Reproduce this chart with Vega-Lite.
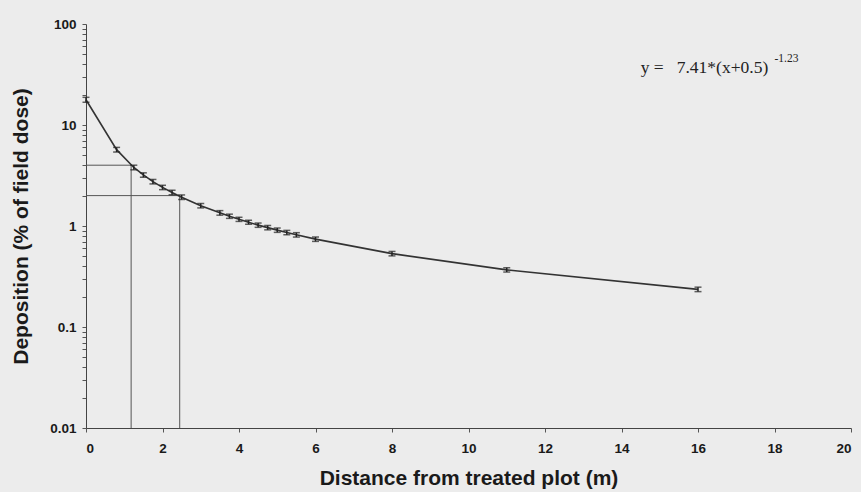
{
  "$schema": "https://vega.github.io/schema/vega-lite/v6.json",
  "width": 765,
  "height": 404,
  "autosize": "none",
  "padding": {"left": 86, "top": 24, "right": 10, "bottom": 64},
  "background": "#ececec",
  "config": {
    "view": {"stroke": null},
    "font": "Liberation Sans",
    "axis": {
      "domainColor": "#444",
      "tickColor": "#555",
      "labelColor": "#1a1a1a",
      "titleColor": "#1a1a1a",
      "labelFont": "Liberation Sans",
      "titleFont": "Liberation Sans",
      "labelFontWeight": "bold",
      "titleFontWeight": "bold",
      "labelFontSize": 13.5,
      "titleFontSize": 21,
      "grid": false,
      "tickSize": 4
    }
  },
  "datasets": {
    "deposition": [
      {"dist": 0, "dep": 17.8, "lo": 16.8, "hi": 18.8},
      {"dist": 0.8, "dep": 5.7, "lo": 5.4, "hi": 6.0},
      {"dist": 1.25, "dep": 3.8, "lo": 3.6, "hi": 4.0},
      {"dist": 1.5, "dep": 3.2, "lo": 3.04, "hi": 3.36},
      {"dist": 1.75, "dep": 2.75, "lo": 2.61, "hi": 2.89},
      {"dist": 2, "dep": 2.41, "lo": 2.29, "hi": 2.53},
      {"dist": 2.25, "dep": 2.15, "lo": 2.04, "hi": 2.26},
      {"dist": 2.5, "dep": 1.93, "lo": 1.83, "hi": 2.03},
      {"dist": 3, "dep": 1.59, "lo": 1.51, "hi": 1.67},
      {"dist": 3.5, "dep": 1.35, "lo": 1.28, "hi": 1.42},
      {"dist": 3.75, "dep": 1.25, "lo": 1.19, "hi": 1.31},
      {"dist": 4, "dep": 1.165, "lo": 1.11, "hi": 1.22},
      {"dist": 4.25, "dep": 1.09, "lo": 1.04, "hi": 1.14},
      {"dist": 4.5, "dep": 1.02, "lo": 0.97, "hi": 1.07},
      {"dist": 4.75, "dep": 0.964, "lo": 0.916, "hi": 1.012},
      {"dist": 5, "dep": 0.91, "lo": 0.865, "hi": 0.955},
      {"dist": 5.25, "dep": 0.862, "lo": 0.819, "hi": 0.905},
      {"dist": 5.5, "dep": 0.818, "lo": 0.777, "hi": 0.859},
      {"dist": 6, "dep": 0.741, "lo": 0.704, "hi": 0.778},
      {"dist": 8, "dep": 0.533, "lo": 0.506, "hi": 0.56},
      {"dist": 11, "dep": 0.368, "lo": 0.35, "hi": 0.386},
      {"dist": 16, "dep": 0.236, "lo": 0.224, "hi": 0.248}
    ],
    "guides": [
      {"x": 0, "x2": 1.18, "y": 4, "y2": 4},
      {"x": 1.18, "x2": 1.18, "y": 0.01, "y2": 4},
      {"x": 0, "x2": 2.45, "y": 2, "y2": 2},
      {"x": 2.45, "x2": 2.45, "y": 0.01, "y2": 2}
    ],
    "equation": [
      {"x": 14.5, "y": 36.5, "text": "y =\u00a0\u00a0\u00a07.41*(x+0.5)", "sup": "-1.23", "xs": 18.0, "ys": 45}
    ]
  },
  "layer": [
    {
      "data": {"name": "guides"},
      "mark": {"type": "rule", "color": "#555", "strokeWidth": 1},
      "encoding": {
        "x": {
          "field": "x", "type": "quantitative",
          "scale": {"domain": [0, 20], "nice": false},
          "axis": {
            "title": "Distance from treated plot (m)",
            "values": [0,1,2,3,4,5,6,7,8,9,10,11,12,13,14,15,16,17,18,19,20],
            "labelExpr": "datum.value % 2 == 0 ? datum.label : ''",
            "labelPadding": 9,
            "titlePadding": 13
          }
        },
        "x2": {"field": "x2"},
        "y": {
          "field": "y", "type": "quantitative",
          "scale": {"type": "log", "domain": [0.01, 100], "nice": false},
          "axis": {
            "title": "Deposition (% of field dose)",
            "values": [0.01,0.02,0.03,0.04,0.05,0.06,0.07,0.08,0.09,0.1,0.2,0.3,0.4,0.5,0.6,0.7,0.8,0.9,1,2,3,4,5,6,7,8,9,10,20,30,40,50,60,70,80,90,100],
            "labelExpr": "indexof([0.01, 0.1, 1, 10, 100], datum.value) >= 0 ? toString(datum.value) : ''",
            "labelPadding": 6,
            "titlePadding": 18
          }
        },
        "y2": {"field": "y2"}
      }
    },
    {
      "data": {"name": "deposition"},
      "mark": {"type": "line", "color": "#333", "strokeWidth": 1.6},
      "encoding": {
        "x": {"field": "dist", "type": "quantitative"},
        "y": {"field": "dep", "type": "quantitative"}
      }
    },
    {
      "data": {"name": "deposition"},
      "mark": {"type": "rule", "color": "#222", "strokeWidth": 1.5},
      "encoding": {
        "x": {"field": "dist", "type": "quantitative"},
        "y": {"field": "lo", "type": "quantitative"},
        "y2": {"field": "hi"}
      }
    },
    {
      "data": {"name": "deposition"},
      "mark": {"type": "tick", "orient": "horizontal", "color": "#222", "size": 7, "thickness": 1.5},
      "encoding": {
        "x": {"field": "dist", "type": "quantitative"},
        "y": {"field": "lo", "type": "quantitative"}
      }
    },
    {
      "data": {"name": "deposition"},
      "mark": {"type": "tick", "orient": "horizontal", "color": "#222", "size": 7, "thickness": 1.5},
      "encoding": {
        "x": {"field": "dist", "type": "quantitative"},
        "y": {"field": "hi", "type": "quantitative"}
      }
    },
    {
      "data": {"name": "equation"},
      "mark": {"type": "text", "font": "Liberation Serif", "fontSize": 17.5, "align": "left", "baseline": "middle", "color": "#222"},
      "encoding": {
        "x": {"field": "x", "type": "quantitative"},
        "y": {"field": "y", "type": "quantitative"},
        "text": {"field": "text"}
      }
    },
    {
      "data": {"name": "equation"},
      "mark": {"type": "text", "font": "Liberation Serif", "fontSize": 11.5, "align": "left", "baseline": "middle", "color": "#222"},
      "encoding": {
        "x": {"field": "xs", "type": "quantitative"},
        "y": {"field": "ys", "type": "quantitative"},
        "text": {"field": "sup"}
      }
    }
  ]
}
